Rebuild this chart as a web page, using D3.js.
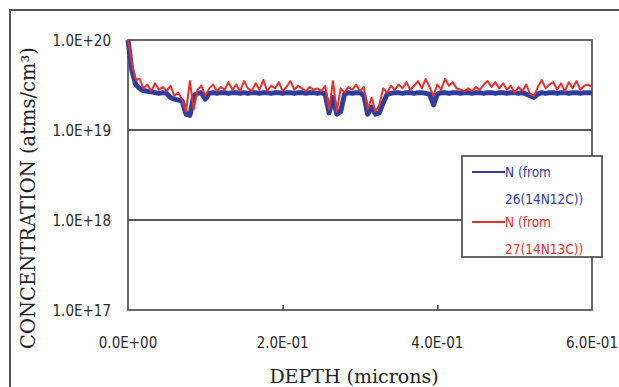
<!DOCTYPE html>
<html>
<head>
<meta charset="utf-8">
<script src="https://cdn.jsdelivr.net/npm/d3@7"></script>
<style>
  body { margin: 0; background: #fff; }
  svg { display: block; }
</style>
</head>
<body>
<div id="container"></div>
<script>
const width = 619,
  height = 387,
  margin = { top: 40, bottom: 77, left: 128, right: 27 };

// depth sampled every 0.005 microns (0 .. 0.6)
const depthStep = 0.005;
const depth = d3.range(0, 121).map(i => +(i * depthStep).toFixed(3));

// concentrations in units of 1E+19 atoms/cm3
const blueN = [
  10, 4.6, 3.2, 2.9, 2.75, 2.7, 2.65, 2.6, 2.55, 2.6,
  2.55, 2.3, 2.2, 2.15, 2.1, 1.5, 1.45, 2.4, 2.55, 2.6,
  2.2, 2.55, 2.6, 2.55, 2.6, 2.6, 2.55, 2.6, 2.6, 2.55,
  2.6, 2.55, 2.6, 2.6, 2.55, 2.6, 2.6, 2.55, 2.6, 2.6,
  2.55, 2.6, 2.6, 2.55, 2.6, 2.6, 2.55, 2.6, 2.6, 2.55,
  2.6, 2.5, 1.55, 2.3, 1.5, 1.6, 2.5, 2.6, 2.55, 2.6,
  2.6, 2.4, 1.5, 1.8, 1.5, 1.55, 2.0, 2.5, 2.55, 2.6,
  2.6, 2.55, 2.6, 2.6, 2.55, 2.6, 2.6, 2.55, 2.5, 1.9,
  2.5, 2.6, 2.6, 2.55, 2.6, 2.6, 2.55, 2.6, 2.6, 2.55,
  2.6, 2.6, 2.55, 2.6, 2.6, 2.55, 2.6, 2.6, 2.55, 2.6,
  2.6, 2.55, 2.6, 2.5, 2.4, 2.3, 2.5, 2.6, 2.55, 2.6,
  2.6, 2.55, 2.6, 2.6, 2.55, 2.6, 2.6, 2.55, 2.6, 2.6,
  2.6
];

const redN = [
  10, 5.5, 3.6, 3.7, 2.9, 3.2, 2.7, 3.3, 2.8, 3.0,
  2.7, 3.1, 2.4, 2.6, 2.2, 1.6, 3.5, 1.7, 2.8, 3.1,
  2.4, 2.9, 3.2, 2.7, 3.0, 2.8, 3.4, 2.8, 3.2, 2.7,
  3.5, 2.9, 2.7, 3.3, 2.8, 3.6, 2.7, 3.1, 2.9, 3.4,
  2.7, 3.0, 3.5, 2.8, 3.1, 2.9, 2.7, 3.0, 2.8, 2.9,
  2.7, 3.1, 1.7, 3.5, 1.6, 2.9, 2.6, 3.0, 2.8, 3.2,
  2.7, 3.0, 1.7, 2.3, 1.6, 1.9, 2.9, 2.6, 3.1, 2.8,
  3.2, 2.9, 3.4, 2.8, 3.1, 3.5, 2.9, 3.7, 3.0, 2.4,
  3.2, 2.8, 3.7, 3.1, 3.4, 2.9, 2.8, 2.7, 2.9, 2.7,
  3.0, 2.8, 3.2, 3.5, 3.0, 3.4, 2.9, 3.3, 2.8, 3.1,
  2.6, 3.0, 2.7, 3.2, 2.5, 2.4, 3.0, 3.6, 2.9, 3.2,
  3.4, 2.8, 3.3, 2.7, 3.4, 2.9, 3.5, 2.8, 3.1, 3.2,
  3.0
];

const xTicks = [0, 0.2, 0.4, 0.6];
const xTickLabels = ["0.0E+00", "2.0E-01", "4.0E-01", "6.0E-01"];
const yTicks = [1e17, 1e18, 1e19, 1e20];
const yTickLabels = ["1.0E+17", "1.0E+18", "1.0E+19", "1.0E+20"];

const seriesNames = ["N (from", "N (from"];
const seriesSub = ["26(14N12C))", "27(14N13C))"];
const colors = ["#2f3d9c", "#e8302c"];

const xScale = d3.scaleLinear()
  .domain([0, 0.6])
  .range([margin.left, width - margin.right])

const yScale = d3.scaleLog()
  .domain([1e17, 1e20])
  .range([height - margin.bottom, margin.top])

const svg = d3.select("#container")
  .append("svg")
  .attr("width", width)
  .attr("height", height)

// outer frame (top + left)
svg.append("path")
  .attr("d", `M10,${height} V10 H${width}`)
  .attr("fill", "none")
  .attr("stroke", "#555")
  .attr("stroke-width", 2)

// gridlines
svg.selectAll("line.grid")
  .data([1e18, 1e19])
  .join("line")
  .attr("class", "grid")
  .attr("x1", xScale(0))
  .attr("x2", xScale(0.6))
  .attr("y1", d => yScale(d))
  .attr("y2", d => yScale(d))
  .attr("stroke", "#222")
  .attr("stroke-width", 1.6)

// plot frame
svg.append("rect")
  .attr("x", xScale(0))
  .attr("y", yScale(1e20))
  .attr("width", xScale(0.6) - xScale(0))
  .attr("height", yScale(1e17) - yScale(1e20))
  .attr("fill", "none")
  .attr("stroke", "#444")
  .attr("stroke-width", 1.6)

// x ticks (inside)
const xAxisGroup = svg.append("g")
  .attr("transform", `translate(0,${yScale(1e17)})`)
  .call(d3.axisTop(xScale).tickValues([0.2, 0.4]).tickSize(5).tickFormat(""))
xAxisGroup.select(".domain").remove()
xAxisGroup.selectAll("line").attr("stroke", "#444").attr("stroke-width", 1.6)

const tickFont = "'Liberation Sans Narrow', 'DejaVu Sans Condensed', sans-serif";

svg.selectAll("text.xtick")
  .data(xTicks)
  .join("text")
  .attr("class", "xtick")
  .attr("x", d => xScale(d))
  .attr("y", 348)
  .attr("text-anchor", "middle")
  .style("font-family", tickFont)
  .style("font-size", "15px")
  .style("fill", "#2a2a2a")
  .text((d, i) => xTickLabels[i])

svg.selectAll("text.ytick")
  .data(yTicks)
  .join("text")
  .attr("class", "ytick")
  .attr("x", 111)
  .attr("y", d => yScale(d) + 5.5)
  .attr("text-anchor", "end")
  .style("font-family", tickFont)
  .style("font-size", "15px")
  .style("fill", "#2a2a2a")
  .text((d, i) => yTickLabels[i])

// series
const line = d3.line()
  .x((d, i) => xScale(depth[i]))
  .y(d => yScale(d * 1e19))

const plot = svg.append("g")

plot.append("path")
  .datum(blueN)
  .attr("d", line)
  .attr("fill", "none")
  .attr("stroke", colors[0])
  .attr("stroke-width", 5)
  .attr("stroke-linejoin", "round")

plot.append("path")
  .datum(redN)
  .attr("d", line)
  .attr("fill", "none")
  .attr("stroke", colors[1])
  .attr("stroke-width", 2)
  .attr("stroke-linejoin", "round")

// legend
const legend = svg.append("g")
legend.append("rect")
  .attr("x", 462)
  .attr("y", 156)
  .attr("width", 140)
  .attr("height", 101)
  .attr("fill", "#fff")
  .attr("stroke", "#444")
  .attr("stroke-width", 1.6)

const items = legend.selectAll("g.item")
  .data(seriesNames)
  .join("g")
  .attr("class", "item")
  .attr("transform", (d, i) => `translate(0,${i * 50})`)

items.append("line")
  .attr("x1", 472)
  .attr("x2", 505)
  .attr("y1", 172)
  .attr("y2", 172)
  .attr("stroke", (d, i) => colors[i])
  .attr("stroke-width", 2)

items.append("text")
  .attr("x", 505)
  .attr("y", 177)
  .style("font-family", tickFont)
  .style("font-size", "13.5px")
  .style("fill", (d, i) => colors[i])
  .text(d => d)

items.append("text")
  .attr("x", 505)
  .attr("y", 204)
  .style("font-family", tickFont)
  .style("font-size", "13.5px")
  .style("fill", (d, i) => colors[i])
  .text((d, i) => seriesSub[i])

// axis titles
svg.append("text")
  .attr("text-anchor", "middle")
  .attr("x", 354)
  .attr("y", 383)
  .style("font-family", "'DejaVu Serif', serif")
  .style("font-size", "19px")
  .style("fill", "#222")
  .text("DEPTH (microns)")

svg.append("text")
  .attr("text-anchor", "middle")
  .attr("transform", "translate(35,198) rotate(-90)")
  .style("font-family", "'DejaVu Serif', serif")
  .style("font-size", "19.5px")
  .style("fill", "#222")
  .text("CONCENTRATION (atms/cm³)")
</script>
</body>
</html>
